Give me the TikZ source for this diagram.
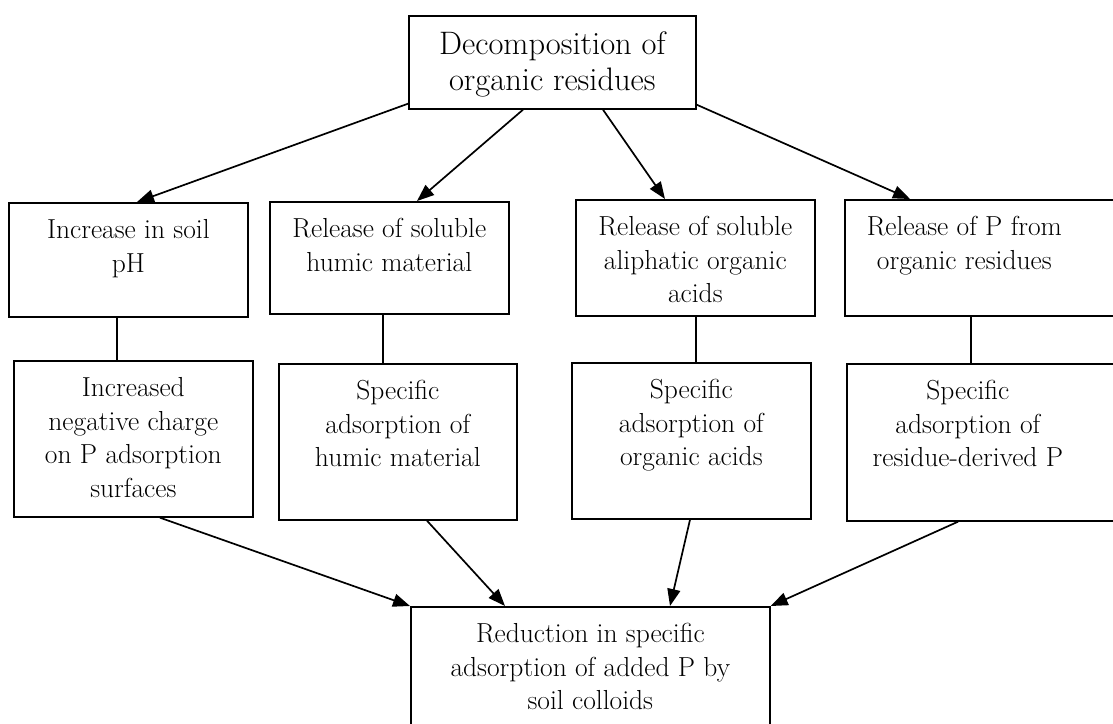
\documentclass[tikz,border=0pt]{standalone}
\usetikzlibrary{arrows.meta,calc}
\newcommand\bt[3]{\parbox[c][#2][t]{#1}{\centering\rule{0pt}{36pt}#3}}
\newcommand\btoff[4]{\parbox[c][#2][t]{#1}{\centering\rightskip=#4 plus 1fil\relax\rule{0pt}{36pt}#3}}
\begin{document}
\begin{tikzpicture}[x=1pt,y=-1pt,
  box/.style={draw, line width=1.7pt, inner sep=0pt, anchor=north west,
    font=\fontsize{27.5}{33.5}\selectfont},
  arr/.style={line width=1.7pt, -{Triangle[length=17pt,width=13pt]}},
  ln/.style={line width=1.7pt}]
\useasboundingbox (0,0) rectangle (1113,723);
\clip (0,0) rectangle (1113,723);
\fill[white] (0,0) rectangle (1113,723);
% top
\node[box, font=\fontsize{32.5}{36}\selectfont] (top) at (408,15)
  {\parbox[c][93pt][t]{287pt}{\centering\rule{0pt}{39pt}Decomposition of\\organic residues}};
% row 1
\node[box] (b1) at (8,202)   {\bt{239pt}{114pt}{Increase in soil\\pH}};
\node[box] (b2) at (269,201) {\bt{239pt}{112pt}{Release of soluble\\humic material}};
\node[box] (b3) at (575,199) {\bt{239pt}{116pt}{Release of soluble\\aliphatic organic\\acids}};
\node[box] (b4) at (844,199) {\btoff{281pt}{116pt}{Release of P from\\organic residues}{42pt}};
% row 2
\node[box] (b5) at (13,360)  {\bt{239pt}{156pt}{Increased\\negative charge\\on P adsorption\\surfaces}};
\node[box] (b6) at (278,363) {\bt{238pt}{156pt}{Specific\\adsorption of\\humic material}};
\node[box] (b7) at (571,362) {\bt{239pt}{156pt}{Specific\\adsorption of\\organic acids}};
\node[box] (b8) at (846,363) {\btoff{279pt}{157pt}{Specific\\adsorption of\\residue-derived P}{37pt}};
% bottom
\node[box] (bot) at (410,606) {\bt{359pt}{134pt}{Reduction in specific\\adsorption of added P by\\soil colloids}};
% arrows from top
\draw[arr] ([yshift=6pt]top.south west) -- ([xshift=129pt]b1.north west);
\draw[arr] ([xshift=115pt]top.south west) -- ([xshift=148pt]b2.north west);
\draw[arr] ([xshift=195pt]top.south west) -- ([xshift=90pt]b3.north west);
\draw[arr] ([yshift=5pt]top.south east) -- ([xshift=66pt]b4.north west);
% vertical links
\coordinate (v1) at ([xshift=109pt]b1.south west);
\coordinate (v2) at ([xshift=114pt]b2.south west);
\coordinate (v3) at ([xshift=121pt]b3.south west);
\coordinate (v4) at ([xshift=127pt]b4.south west);
\draw[ln] (v1) -- (v1 |- b5.north);
\draw[ln] (v2) -- (v2 |- b6.north);
\draw[ln] (v3) -- (v3 |- b7.north);
\draw[ln] (v4) -- (v4 |- b8.north);
% arrows to bottom
\draw[arr] ([xshift=147pt]b5.south west) -- (bot.north west);
\draw[arr] ([xshift=149pt]b6.south west) -- ([xshift=95pt]bot.north west);
\draw[arr] ([xshift=119pt]b7.south west) -- ([xshift=260pt]bot.north west);
\draw[arr] ([xshift=112pt]b8.south west) -- (bot.north east);
\end{tikzpicture}
\end{document}
